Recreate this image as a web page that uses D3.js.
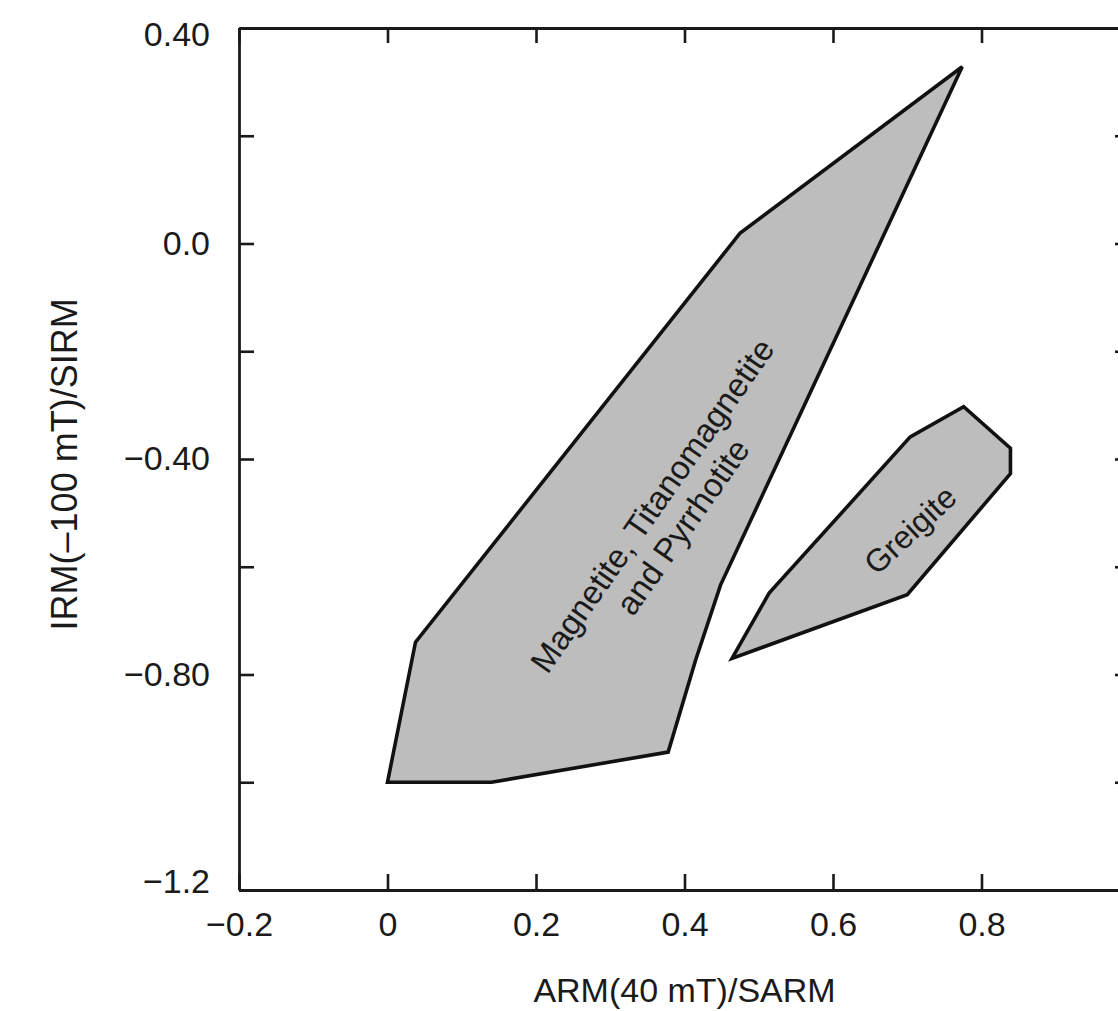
<!DOCTYPE html>
<html>
<head>
<meta charset="utf-8">
<script src="https://cdn.jsdelivr.net/npm/d3@7"></script>
<style>
  html, body { margin: 0; padding: 0; background: #fff; }
  svg { display: block; }
</style>
</head>
<body>
<script>
// Tick values and their printed labels (1.0 sits on the cut-off right edge, unlabelled)
const xTickValues = [-0.2, 0, 0.2, 0.4, 0.6, 0.8, 1.0];
const xTickLabels = ["\u22120.2", "0", "0.2", "0.4", "0.6", "0.8", ""];
const yTickValues = [-1.2, -1.0, -0.8, -0.6, -0.4, -0.2, 0, 0.2, 0.4];
const yTickLabels = ["\u22121.2", "", "\u22120.80", "", "\u22120.40", "", "0.0", "", "0.40"];

// Field outlines, [ARM/SARM, IRM/SIRM]
const magnetiteField = [
  [0.0, -1.0], [0.14, -1.0], [0.378, -0.944], [0.415, -0.773], [0.4485, -0.634],
  [0.774, 0.328], [0.475, 0.0195], [0.0377, -0.740]
];
const greigiteField = [
  [0.464, -0.770], [0.514, -0.649], [0.704, -0.359], [0.776, -0.303],
  [0.839, -0.380], [0.839, -0.427], [0.700, -0.652]
];

// Field label texts
const magnetiteLabel = ["Magnetite, Titanomagnetite", "and Pyrrhotite"];
const greigiteLabel = ["Greigite"];

const width = 1118, height = 1011;
const fontFamily = "'Liberation Sans', Arial, Helvetica, sans-serif";
const ink = "#1a1a1a";

const svg = d3.select("body").append("svg")
    .attr("width", width)
    .attr("height", height);

// Scales (right spine at x = 1.0 falls just outside the picture)
const x = d3.scaleLinear().domain([-0.2, 1.0]).range([239, 1130]);
const y = d3.scaleLinear().domain([-1.2, 0.4]).range([890, 28]);

// Fields
const line = d3.line()
    .x(d => x(d[0]))
    .y(d => y(d[1]))
    .curve(d3.curveLinearClosed);

svg.selectAll("path.field")
    .data([magnetiteField, greigiteField])
  .enter().append("path")
    .attr("class", "field")
    .attr("d", line)
    .attr("fill", "#bdbdbd")
    .attr("stroke", "#111")
    .attr("stroke-width", 3.6)
    .attr("stroke-linejoin", "miter");

// Axes
function styleAxis(g) {
  g.select(".domain").attr("stroke", ink).attr("stroke-width", 2.8);
  g.selectAll(".tick line").attr("stroke", ink).attr("stroke-width", 2.6);
  g.selectAll(".tick text")
      .attr("fill", ink)
      .style("font-family", fontFamily)
      .style("font-size", "34px");
}

svg.append("g")
    .attr("transform", `translate(0,${y(-1.2)})`)
    .call(d3.axisBottom(x).tickValues(xTickValues).tickSize(-16).tickSizeOuter(0)
      .tickPadding(22).tickFormat((d, i) => xTickLabels[i]))
    .call(styleAxis);

svg.append("g")
    .attr("transform", `translate(0,${y(0.4)})`)
    .call(d3.axisTop(x).tickValues(xTickValues).tickSize(-15).tickSizeOuter(0).tickFormat(""))
    .call(styleAxis);

const yAxisG = svg.append("g")
    .attr("transform", `translate(${x(-0.2)},0)`)
    .call(d3.axisLeft(y).tickValues(yTickValues).tickSize(-15).tickSizeOuter(0)
      .tickPadding(29).tickFormat((d, i) => yTickLabels[i]))
    .call(styleAxis);

// end labels sit a little inside the frame
yAxisG.selectAll(".tick text")
    .attr("y", d => d === 0.4 ? 7 : d === -1.2 ? -8 : 0);

svg.append("g")
    .attr("transform", `translate(${x(1.0)},0)`)
    .call(d3.axisRight(y).tickValues(yTickValues).tickSize(-15).tickSizeOuter(0).tickFormat(""))
    .call(styleAxis);

// Axis titles
svg.append("text")
    .attr("x", x(0.4))
    .attr("y", 1002)
    .attr("text-anchor", "middle")
    .attr("fill", ink)
    .style("font-family", fontFamily)
    .style("font-size", "34px")
    .text("ARM(40 mT)/SARM");

svg.append("text")
    .attr("transform", `translate(77,${y(-0.41)}) rotate(-90)`)
    .attr("text-anchor", "middle")
    .attr("fill", ink)
    .style("font-family", fontFamily)
    .style("font-size", "36px")
    .text("IRM(\u2013100 mT)/SIRM");

// Field labels
function fieldLabel(lines, at, angle, gap, size) {
  const g = svg.append("g")
      .attr("transform", `translate(${x(at[0])},${y(at[1])}) rotate(${angle})`);
  g.selectAll("text")
      .data(lines)
    .enter().append("text")
      .attr("y", (d, i) => (i - (lines.length - 1) / 2) * gap)
      .attr("text-anchor", "middle")
      .attr("dominant-baseline", "central")
      .attr("fill", ink)
      .style("font-family", fontFamily)
      .style("font-size", size + "px")
      .text(d => d);
}

fieldLabel(magnetiteLabel, [0.377, -0.506], -55, 37, 33);
fieldLabel(greigiteLabel, [0.704, -0.532], -43, 0, 32);
</script>
</body>
</html>
